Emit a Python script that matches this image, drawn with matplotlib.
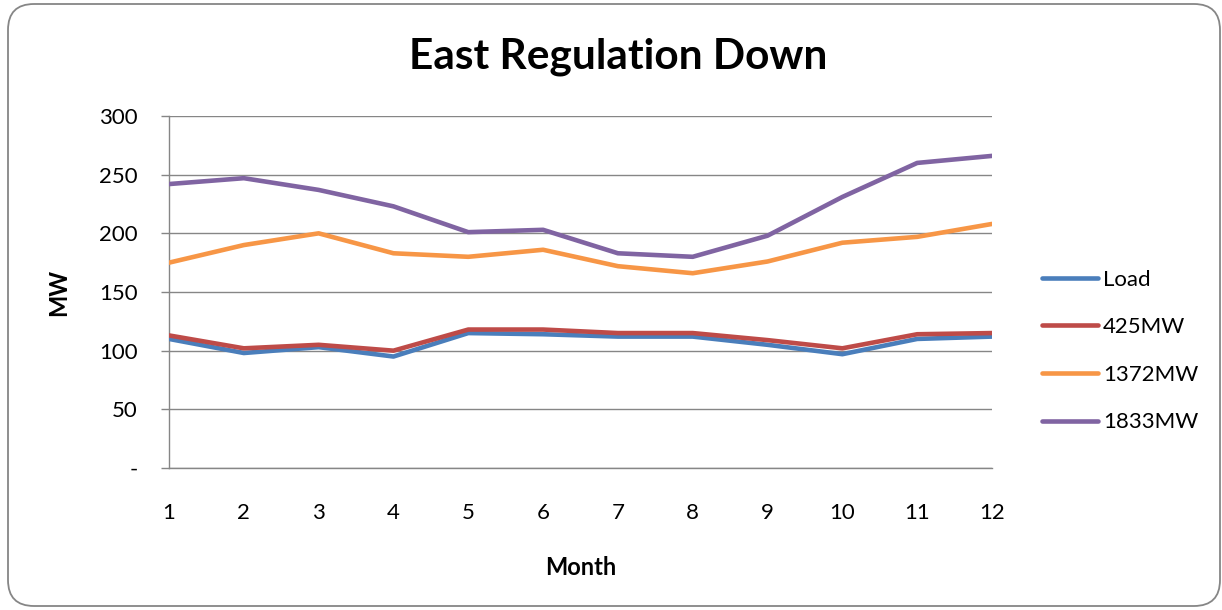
import matplotlib
matplotlib.use("Agg")
import matplotlib.pyplot as plt
from matplotlib.patches import FancyBboxPatch
from matplotlib.transforms import IdentityTransform
from matplotlib.ticker import FuncFormatter

plt.rcParams['font.family'] = ['Lato', 'DejaVu Sans']

months = [1, 2, 3, 4, 5, 6, 7, 8, 9, 10, 11, 12]
load = [110, 98, 103, 95, 115, 114, 112, 112, 105, 97, 110, 112]
mw_425 = [113, 102, 105, 100, 118, 118, 115, 115, 109, 102, 114, 115]
mw_1372 = [175, 190, 200, 183, 180, 186, 172, 166, 176, 192, 197, 208]
mw_1833 = [242, 247, 237, 223, 201, 203, 183, 180, 198, 231, 260, 266]

series_names = ["Load", "425MW", "1372MW", "1833MW"]
series_colors = ["#4A7EBB", "#BE4B48", "#F79646", "#8064A2"]
y_ticks = [0, 50, 100, 150, 200, 250, 300]

W, H = 1222, 610
fig = plt.figure(figsize=(W / 100, H / 100), dpi=100)

ax = fig.add_axes([169 / W, 1 - 468 / H, (992 - 169) / W, (468 - 116) / H])
ax.set_facecolor("none")

# rounded chart-area border, in pixel units
border = FancyBboxPatch((8, H - 606), 1220 - 8, 606 - 4,
                        boxstyle="round,pad=0,rounding_size=26",
                        transform=IdentityTransform(), facecolor="none",
                        edgecolor="#868686", linewidth=1.3, zorder=5)
fig.add_artist(border)

for vals, name, col in zip([load, mw_425, mw_1372, mw_1833], series_names, series_colors):
    ax.plot(months, vals, color=col, linewidth=3.3, label=name,
            solid_capstyle="round", solid_joinstyle="round", zorder=3)

ax.set_xlim(1, 12)
ax.set_ylim(0, 300)
ax.set_xticks(months)
ax.set_yticks(y_ticks)
ax.yaxis.set_major_formatter(FuncFormatter(lambda v, p: "-" if v == 0 else f"{int(v)}"))

grid_col = "#868686"
ax.grid(axis="y", color=grid_col, linewidth=1.0, zorder=1)
for s in ["top", "right"]:
    ax.spines[s].set_visible(False)
for s in ["left", "bottom"]:
    ax.spines[s].set_color(grid_col)
    ax.spines[s].set_linewidth(1.0)

ax.tick_params(axis="y", length=5.5, width=1.0, color=grid_col, pad=17, labelsize=16)
ax.tick_params(axis="x", length=0, pad=25, labelsize=16)

# chart title centred over the whole chart area
fig.text(618 / W, 1 - 57 / H, "East Regulation Down", fontsize=30.5,
         fontweight="bold", ha="center", va="center")
ax.set_ylabel("MW", fontsize=17, fontweight="bold", labelpad=21)
ax.set_xlabel("Month", fontsize=17, fontweight="bold", labelpad=24)

leg = ax.legend(loc="center left", bbox_to_anchor=(1042 / W, 1 - 351 / H),
                bbox_transform=fig.transFigure, frameon=False, fontsize=16,
                borderaxespad=0, borderpad=0,
                handlelength=2.52, handletextpad=0.22, labelspacing=1.24)
for line in leg.get_lines():
    line.set_linewidth(3.3)

fig.savefig("out.png", dpi=100)
